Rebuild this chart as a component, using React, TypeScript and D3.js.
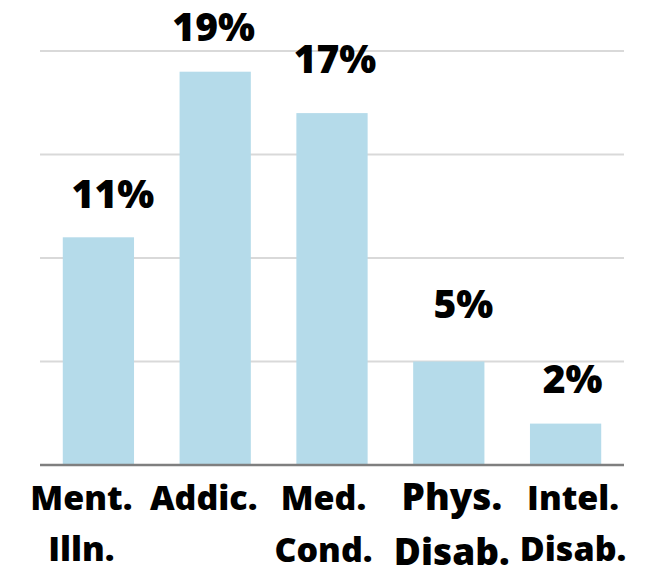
import React from "react";
import * as d3 from "d3";

// Share of people in each group (percent)
const categories = ["Ment. Illn.", "Addic.", "Med. Cond.", "Phys. Disab.", "Intel. Disab."];
const values = [11, 19, 17, 5, 2];
const gridTicks = [5, 10, 15, 20];

// Hand-placed label layout: [dx, dy from bar top] for the value labels
const valueLabelOffsets: [number, number][] = [
  [14.5, -29],
  [-1.5, -31],
  [3, -40],
  [14.5, -43.5],
  [7, -30.5],
];
// Category label layout: horizontal nudge, font size, second-line gap
const catLabelDx = [-17, -11.5, -8.5, 3, 7.5];
const catLabelSize = [34, 34, 34, 37, 34];
const catLabelLineGap = [51, 51, 52, 55, 51];

const W = 649;
const H = 573;
const LEFT = 40;
const RIGHT = 624;
const BASE = 465;
const TOP = 51;

export default function App() {
  const x = d3
    .scaleBand<string>()
    .domain(categories)
    .range([LEFT, RIGHT])
    .paddingInner(0.39)
    .paddingOuter(0.195);
  const y = d3.scaleLinear().domain([0, 20]).range([BASE, TOP]);

  const font = "'Open Sans', 'DejaVu Sans', sans-serif";

  return (
    <svg
      width={W}
      height={H}
      viewBox={`0 0 ${W} ${H}`}
      style={{ position: "absolute", left: 0, top: 0, display: "block", background: "#fff" }}
    >
      {/* gridlines */}
      {gridTicks.map((t) => (
        <line
          key={t}
          x1={LEFT}
          x2={RIGHT}
          y1={y(t)}
          y2={y(t)}
          stroke="#d9d9d9"
          strokeWidth={2}
        />
      ))}

      {/* bars */}
      {categories.map((c, i) => (
        <rect
          key={c}
          x={x(c)!}
          y={y(values[i])}
          width={x.bandwidth()}
          height={y(0) - y(values[i])}
          fill="#b5dbea"
        />
      ))}

      {/* baseline */}
      <line x1={LEFT} x2={RIGHT} y1={y(0)} y2={y(0)} stroke="#7f7f7f" strokeWidth={2.5} />

      {/* value labels */}
      {categories.map((c, i) => (
        <text
          key={"v" + c}
          x={x(c)! + x.bandwidth() / 2 + valueLabelOffsets[i][0]}
          y={y(values[i]) + valueLabelOffsets[i][1]}
          textAnchor="middle"
          fontFamily={font}
          fontWeight={800}
          fontSize={39}
          fill="#000"
        >
          {values[i]}%
        </text>
      ))}

      {/* category labels, two lines each */}
      {categories.map((c, i) => {
        const [l1, l2] = c.split(" ");
        const cx = x(c)! + x.bandwidth() / 2 + catLabelDx[i];
        return (
          <g key={"c" + c} fontFamily={font} fontWeight={800} fontSize={catLabelSize[i]} fill="#000">
            <text x={cx} y={510} textAnchor="middle">
              {l1}
            </text>
            {l2 && (
              <text x={cx} y={510 + catLabelLineGap[i]} textAnchor="middle">
                {l2}
              </text>
            )}
          </g>
        );
      })}
    </svg>
  );
}
